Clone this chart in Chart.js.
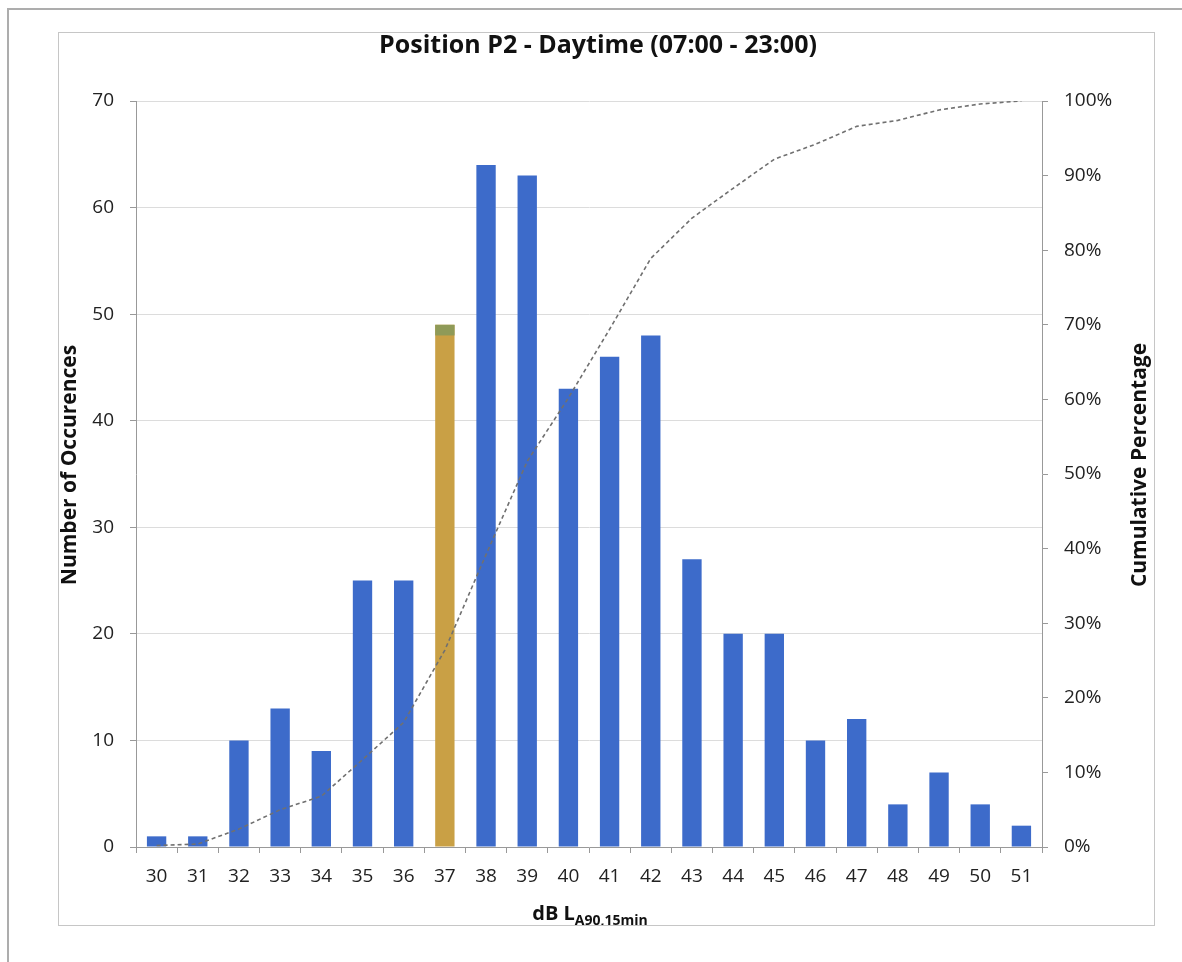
<!DOCTYPE html>
<html>
<head>
<meta charset="utf-8">
<script src="https://cdn.jsdelivr.net/npm/chart.js@4.4.1/dist/chart.umd.min.js"></script>
<style>
  html, body { margin: 0; padding: 0; background: #fff; width: 1182px; height: 962px; overflow: hidden; }
  #outer { position: absolute; left: 7px; top: 8px; width: 1200px; height: 1000px; border-top: 2px solid #adadad; border-left: 2px solid #adadad; }
  #frame { position: absolute; left: 58px; top: 32px; width: 1095px; height: 892px; border: 1px solid #c6c6c6; }
  #wrap { position: absolute; left: 58px; top: 32px; width: 1096px; height: 893px; }
</style>
</head>
<body>
<div id="outer"></div>
<div id="frame"></div>
<div id="wrap"><canvas id="c" width="1096" height="893"></canvas></div>
<script>
const categories = ['30','31','32','33','34','35','36','37','38','39','40','41','42','43','44','45','46','47','48','49','50','51'];
const occurrences = [1, 1, 10, 13, 9, 25, 25, 49, 64, 63, 43, 46, 48, 27, 20, 20, 10, 12, 4, 7, 4, 2];
const capRange = [null, null, null, null, null, null, null, [48, 49], null, null, null, null, null, null, null, null, null, null, null, null, null, null];
const cumulativePct = [0.2, 0.4, 2.4, 5.0, 6.8, 11.7, 16.7, 26.4, 39.2, 51.7, 60.2, 69.4, 78.9, 84.3, 88.3, 92.2, 94.2, 96.6, 97.4, 98.8, 99.6, 100];
const highlightCategory = '37';
const leftTicks = [0, 10, 20, 30, 40, 50, 60, 70];
const rightTicks = [0, 10, 20, 30, 40, 50, 60, 70, 80, 90, 100];

const FONT = '"Open Sans", "DejaVu Sans", sans-serif';
const BLUE = '#3d6bca';
const GOLD = '#c9a045';
const OLIVE = '#8f9a58';

const barColors = categories.map(c => c === highlightCategory ? GOLD : BLUE);

const textPlugin = {
  id: 'texts',
  afterDraw(chart) {
    const ctx = chart.ctx;
    ctx.save();
    ctx.fillStyle = '#111';
    // Title
    ctx.font = 'bold 25px ' + FONT;
    ctx.textAlign = 'center';
    ctx.textBaseline = 'middle';
    ctx.fillText('Position P2 - Daytime (07:00 - 23:00)', 540, 14);
    // Left axis title
    ctx.save();
    ctx.translate(12, 433);
    ctx.rotate(-Math.PI / 2);
    ctx.font = 'bold 21px ' + FONT;
    ctx.fillText('Number of Occurences', 0, 0);
    ctx.restore();
    // Right axis title
    ctx.save();
    ctx.translate(1082, 433);
    ctx.rotate(-Math.PI / 2);
    ctx.font = 'bold 21px ' + FONT;
    ctx.fillText('Cumulative Percentage', 0, 0);
    ctx.restore();
    // X axis title with subscript
    const main = 'dB L';
    const sub = 'A90,15min';
    ctx.font = 'bold 20px ' + FONT;
    const wMain = ctx.measureText(main).width;
    ctx.font = 'bold 14px ' + FONT;
    const wSub = ctx.measureText(sub).width;
    const total = wMain + wSub;
    const x0 = 532 - total / 2;
    ctx.textAlign = 'left';
    ctx.textBaseline = 'alphabetic';
    ctx.font = 'bold 20px ' + FONT;
    ctx.fillText(main, x0, 888);
    ctx.font = 'bold 14px ' + FONT;
    ctx.fillText(sub, x0 + wMain, 893);
    ctx.restore();
  }
};

new Chart(document.getElementById('c'), {
  data: {
    labels: categories,
    datasets: [
      {
        type: 'line',
        label: 'Cumulative Percentage',
        data: cumulativePct,
        yAxisID: 'y1',
        borderColor: '#707070',
        borderWidth: 1.6,
        borderDash: [4, 3],
        pointRadius: 0,
        fill: false,
        tension: 0,
        order: 0
      },
      {
        type: 'bar',
        label: 'Top',
        data: capRange,
        yAxisID: 'y',
        backgroundColor: OLIVE,
        grouped: false,
        barPercentage: 0.47,
        categoryPercentage: 1,
        order: 1
      },
      {
        type: 'bar',
        label: 'Number of Occurences',
        data: occurrences,
        yAxisID: 'y',
        backgroundColor: barColors,
        grouped: false,
        barPercentage: 0.47,
        categoryPercentage: 1,
        order: 2
      }
    ]
  },
  options: {
    responsive: false,
    animation: false,
    layout: { padding: { top: 69, left: 0, right: 0, bottom: 0 } },
    plugins: {
      legend: { display: false },
      title: { display: false },
      tooltip: { enabled: false }
    },
    scales: {
      x: {
        offset: true,
        grid: { display: true, drawOnChartArea: false, drawTicks: true, tickLength: 6, color: '#999', offset: true },
        border: { display: true, color: '#999', width: 1 },
        ticks: { color: '#222', font: { family: FONT, size: 19 }, padding: 12, maxRotation: 0, autoSkip: false },
        afterFit(scale) { scale.height = 78; }
      },
      y: {
        position: 'left',
        min: 0,
        max: 70,
        afterBuildTicks(scale) { scale.ticks = leftTicks.map(v => ({ value: v })); },
        grid: { color: '#dcdcdc', lineWidth: 1, tickLength: 6, tickColor: '#999' },
        border: { display: true, color: '#999', width: 1 },
        ticks: { color: '#222', font: { family: FONT, size: 19 }, padding: 16 },
        afterFit(scale) { scale.width = 78; }
      },
      y1: {
        position: 'right',
        min: 0,
        max: 100,
        afterBuildTicks(scale) { scale.ticks = rightTicks.map(v => ({ value: v })); },
        grid: { drawOnChartArea: false, tickLength: 6, tickColor: '#999', color: '#999' },
        border: { display: true, color: '#999', width: 1 },
        ticks: { color: '#222', font: { family: FONT, size: 19 }, padding: 16, callback: v => v + '%' },
        afterFit(scale) { scale.width = 112; }
      }
    }
  },
  plugins: [textPlugin]
});
</script>
</body>
</html>
